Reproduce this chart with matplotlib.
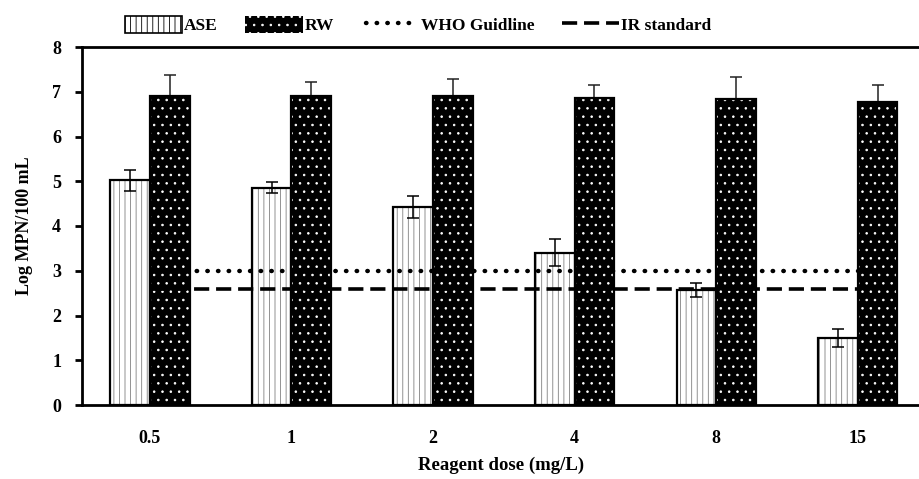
import matplotlib
matplotlib.use("Agg")
import matplotlib.pyplot as plt
import numpy as np
from matplotlib.patches import Patch
from matplotlib.lines import Line2D

categories = ["0.5", "1", "2", "4", "8", "15"]
ase = [5.02, 4.86, 4.42, 3.40, 2.57, 1.50]
ase_err = [0.23, 0.12, 0.25, 0.30, 0.15, 0.20]
rw = [6.90, 6.90, 6.90, 6.87, 6.83, 6.78]
rw_err = [0.48, 0.32, 0.38, 0.28, 0.50, 0.37]
who_guideline = 3.0
ir_standard = 2.6

plt.rcParams['font.family'] = ['Liberation Serif', 'DejaVu Serif']
plt.rcParams['font.weight'] = 'bold'
plt.rcParams['hatch.linewidth'] = 0.6

fig = plt.figure(figsize=(9.2, 4.79), dpi=100)
ax = fig.add_axes([82/920, 74/479, 1 - 82/920, 358/479])

x = np.arange(len(categories))
w = 0.28

dot_style = dict(color='black', linestyle=(1.5, (0.1, 2.3)), linewidth=3.2, dash_capstyle='round')
dash_style = dict(color='black', linestyle=(0, (4.2, 1.9)), linewidth=2.6)

# ASE bars: white with gray vertical hatch
ax.bar(x - w/2, ase, w, facecolor='white', edgecolor='#808080', hatch='|||', linewidth=0, zorder=2)
ax.bar(x - w/2, ase, w, facecolor='none', edgecolor='black', linewidth=1.6, zorder=3)
ax.errorbar(x - w/2, ase, yerr=ase_err, fmt='none', ecolor='black', elinewidth=1.1, capsize=4, capthick=1.1, zorder=5)

# RW bars: black with white dots
ax.bar(x + w/2, rw, w, facecolor='black', edgecolor='white', hatch='..', linewidth=0, zorder=2)
ax.bar(x + w/2, rw, w, facecolor='none', edgecolor='black', linewidth=1.6, zorder=3)
ax.errorbar(x + w/2, rw, yerr=rw_err, fmt='none', ecolor='#222222', elinewidth=1.1, capsize=4, capthick=1.1, zorder=1)

ax.plot([x[0], x[-1]], [who_guideline]*2, zorder=4, **dot_style)
ax.plot([x[0], x[-1]], [ir_standard]*2, zorder=4, **dash_style)

ax.set_xlim(-0.48, 5.44)
ax.set_ylim(0, 8)
ax.set_yticks(range(0, 9))
ax.set_xticks(x)
ax.set_xticklabels(categories)
ax.tick_params(axis='x', length=0, pad=18, labelsize=13)
ax.tick_params(axis='y', direction='out', length=5, width=2, labelsize=13, pad=10)
for s in ['left', 'bottom', 'top']:
    ax.spines[s].set_linewidth(2)
ax.spines['right'].set_visible(False)

ax.set_ylabel("Log MPN/100 mL", fontsize=13, fontweight='bold', labelpad=14)
ax.set_xlabel("Reagent dose (mg/L)", fontsize=13.5, fontweight='bold', labelpad=7)

handles = [
    Patch(facecolor='white', edgecolor='black', hatch='|||', linewidth=1.2),
    Patch(facecolor='black', edgecolor='white', hatch='..', linewidth=0),
    Line2D([], [], **dot_style),
    Line2D([], [], **dash_style),
]
labels = ["ASE", "RW", "WHO Guidline", "IR standard"]
fig.legend(handles, labels, loc='center', bbox_to_anchor=(418/920, 1 - 25/479), ncol=4,
           frameon=False, handlelength=3.3, handleheight=1.1, handletextpad=0.1,
           columnspacing=1.6, prop={'weight': 'bold', 'size': 12.5})

fig.savefig("out.png", dpi=100)
